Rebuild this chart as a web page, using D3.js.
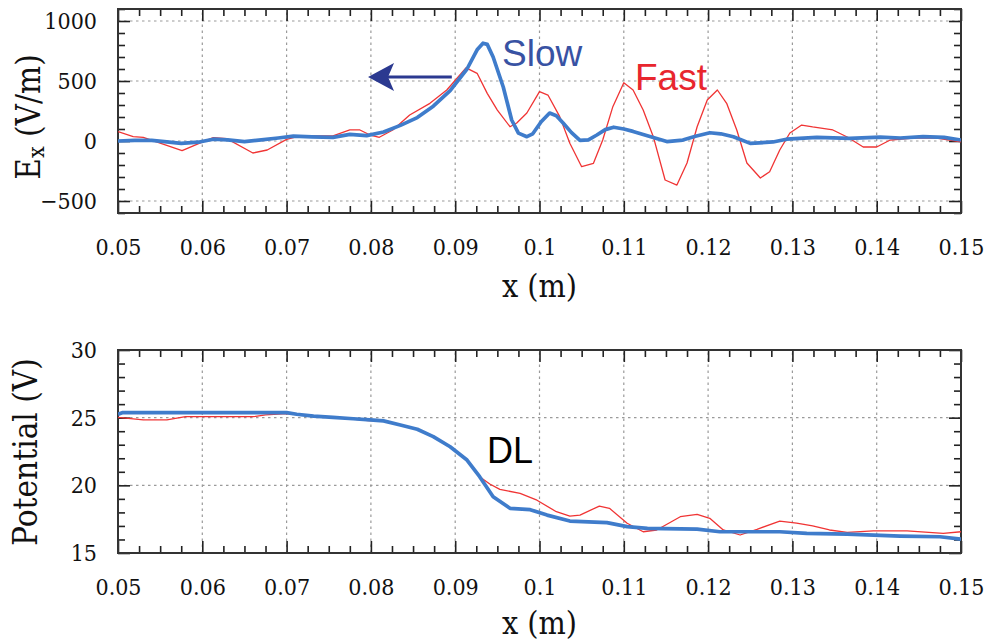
<!DOCTYPE html>
<html><head><meta charset="utf-8">
<script src="https://cdn.jsdelivr.net/npm/d3@7"></script>
<style>
html,body{margin:0;padding:0;background:#fff;}
svg{display:block;}
</style></head>
<body>
<svg id="chart" width="984" height="642"></svg>
<script>
// ---------- data ----------
const efieldX = [0.050,0.052,0.054,0.0555,0.0575,0.0595,0.0613,0.063,0.065,0.067,0.069,0.0708,0.073,0.0755,0.0775,0.0795,0.0815,0.0835,0.0855,0.0874,0.0894,0.0914,0.0926,0.0933,0.0938,0.0945,0.0957,0.0967,0.0975,0.0985,0.0992,0.1002,0.1012,0.102,0.1028,0.1038,0.1048,0.1058,0.1068,0.1078,0.1088,0.11,0.1111,0.113,0.1151,0.117,0.1185,0.1202,0.1215,0.123,0.125,0.1277,0.1293,0.1329,0.1368,0.1404,0.1428,0.1455,0.148,0.15];
const efieldSlow = [0,5,5,-5,-20,-10,15,10,-5,10,25,40,35,30,55,45,75,130,195,290,420,600,760,815,805,700,450,175,66,36,60,160,233,210,150,70,5,10,50,95,115,100,80,40,-5,8,40,69,60,36,-20,-8,15,31,22,33,25,37,30,8];

const efieldFastX = [0.050,0.0518,0.053,0.055,0.0576,0.0597,0.0613,0.0629,0.066,0.0677,0.070,0.0716,0.0755,0.0775,0.0787,0.0799,0.081,0.0826,0.0846,0.087,0.089,0.0913,0.0926,0.0938,0.095,0.0965,0.0973,0.0985,0.1,0.101,0.1024,0.1036,0.105,0.1064,0.1075,0.1087,0.11,0.1111,0.1123,0.1135,0.1149,0.1163,0.1175,0.1187,0.1199,0.1211,0.1222,0.1234,0.1246,0.1262,0.1273,0.1285,0.1297,0.1311,0.1324,0.1348,0.1365,0.1384,0.14,0.1416,0.1443,0.1471,0.15];
const efieldFast = [78,36,30,-17,-80,-17,28,20,-100,-75,14,42,42,92,92,50,31,92,217,314,425,610,564,397,258,119,150,233,411,383,203,-19,-214,-186,8,286,485,425,258,36,-325,-367,-183,119,342,425,314,92,-183,-308,-256,-75,67,133,117,92,33,-50,-50,8,25,25,-8];

const potSlowX = [0.050,0.0505,0.070,0.0712,0.0732,0.0755,0.0779,0.0799,0.0815,0.0835,0.0855,0.0874,0.0894,0.0914,0.0929,0.0945,0.0965,0.0989,0.1009,0.1036,0.108,0.1104,0.1128,0.1187,0.1214,0.1285,0.1317,0.1365,0.1428,0.1475,0.15];
const potSlow = [25.25,25.37,25.37,25.25,25.12,25.02,24.92,24.83,24.76,24.46,24.14,23.6,22.85,21.87,20.64,19.16,18.3,18.2,17.8,17.36,17.24,16.95,16.82,16.77,16.57,16.57,16.45,16.4,16.25,16.2,16.03];

const potFastX = [0.050,0.053,0.0558,0.058,0.066,0.0675,0.070,0.0755,0.0785,0.0797,0.0815,0.0835,0.0855,0.0874,0.0894,0.0914,0.0929,0.0941,0.0953,0.0977,0.0997,0.102,0.1036,0.1048,0.1071,0.1083,0.1104,0.1123,0.1139,0.1167,0.1187,0.1202,0.1218,0.1238,0.1258,0.1285,0.1305,0.1324,0.1344,0.1365,0.1396,0.1436,0.1479,0.15];
const potFast = [25.02,24.83,24.83,25.07,25.07,25.2,25.3,25.0,24.85,24.78,24.76,24.46,24.14,23.6,22.85,21.87,20.64,20.1,19.7,19.4,18.9,18.05,17.73,17.8,18.47,18.3,17.2,16.57,16.7,17.68,17.86,17.56,16.7,16.33,16.75,17.36,17.2,17.0,16.7,16.53,16.63,16.63,16.45,16.57];

const xTicks = [0.05,0.06,0.07,0.08,0.09,0.1,0.11,0.12,0.13,0.14,0.15];
const xTickLabels = ["0.05","0.06","0.07","0.08","0.09","0.1","0.11","0.12","0.13","0.14","0.15"];
const eTicks = [-500,0,500,1000];
const vTicks = [15,20,25,30];

// ---------- layout ----------
const svg = d3.select("#chart");
const L = 118, R = 961;
const x = d3.scaleLinear().domain([0.05,0.15]).range([L,R]);
const yTop = d3.scaleLinear().domain([-600,1100]).range([213,9]);
const yBot = d3.scaleLinear().domain([15,30]).range([553,350]);

const blue = "#3f7ccb", red = "#f03434";
const serif = '"DejaVu Serif Condensed","DejaVu Serif",serif';
const sans = '"Liberation Sans",Arial,sans-serif';

function panel(y, yMajor, yMinorStep, gridY) {
  const [y0,y1] = y.range(); // bottom, top
  const g = svg.append("g");
  const gx = xTicks.filter(t => t > 0.051 && t < 0.149);
  g.selectAll(".gv").data(gx).join("line")
    .attr("x1", d=>x(d)).attr("x2", d=>x(d)).attr("y1", y0).attr("y2", y1)
    .attr("stroke","#9a9a9a").attr("stroke-width",1.2).attr("stroke-dasharray","2.5,3.5");
  g.selectAll(".gh").data(gridY).join("line")
    .attr("x1", L).attr("x2", R).attr("y1", d=>y(d)).attr("y2", d=>y(d))
    .attr("stroke","#9a9a9a").attr("stroke-width",1.2).attr("stroke-dasharray","2.5,3.5");
  const [d0,d1] = y.domain();
  const minorY = d3.range(Math.ceil(d0/yMinorStep)*yMinorStep, d1+1e-9, yMinorStep).filter(v=>!yMajor.includes(v));
  const minorX = d3.range(0.05,0.1500001,0.0025).filter(v=>!xTicks.some(t=>Math.abs(t-v)<1e-6));
  const axB = g.append("g").attr("transform",`translate(0,${y0})`)
    .call(d3.axisBottom(x).tickValues(xTicks).tickFormat((d,i)=>xTickLabels[i]).tickSizeInner(-12).tickSizeOuter(0).tickPadding(30));
  g.append("g").attr("transform",`translate(0,${y0})`)
    .call(d3.axisBottom(x).tickValues(minorX).tickFormat("").tickSizeInner(-7).tickSizeOuter(0));
  g.append("g").attr("transform",`translate(0,${y1})`)
    .call(d3.axisTop(x).tickValues(xTicks).tickFormat("").tickSizeInner(-12).tickSizeOuter(0));
  g.append("g").attr("transform",`translate(0,${y1})`)
    .call(d3.axisTop(x).tickValues(minorX).tickFormat("").tickSizeInner(-7).tickSizeOuter(0));
  g.append("g").attr("transform",`translate(${L},0)`)
    .call(d3.axisLeft(y).tickValues(yMajor).tickFormat(d3.format("d")).tickSizeInner(-12).tickSizeOuter(0).tickPadding(21));
  g.append("g").attr("transform",`translate(${L},0)`)
    .call(d3.axisLeft(y).tickValues(minorY).tickFormat("").tickSizeInner(-7).tickSizeOuter(0));
  g.append("g").attr("transform",`translate(${R},0)`)
    .call(d3.axisRight(y).tickValues(yMajor).tickFormat("").tickSizeInner(-12).tickSizeOuter(0));
  g.append("g").attr("transform",`translate(${R},0)`)
    .call(d3.axisRight(y).tickValues(minorY).tickFormat("").tickSizeInner(-7).tickSizeOuter(0));
  g.selectAll(".domain").remove();
  g.selectAll(".tick line").attr("stroke","#222").attr("stroke-width",1.6);
  g.selectAll(".tick text").attr("font-size",23).attr("fill","#111").attr("font-family",serif);
  axB.selectAll(".tick text").attr("dy","0.32em").attr("y",35);
  g.append("rect").attr("x",L).attr("y",y1).attr("width",R-L).attr("height",y0-y1)
    .attr("fill","none").attr("stroke","#333").attr("stroke-width",2);
  return g;
}

const gTop = panel(yTop, eTicks, 100, [-500,0,500,1000]);
const gBot = panel(yBot, vTicks, 1, [20,25]);

const defs = svg.append("defs");
defs.append("clipPath").attr("id","cTop").append("rect").attr("x",L).attr("y",9).attr("width",R-L).attr("height",204);
defs.append("clipPath").attr("id","cBot").append("rect").attr("x",L).attr("y",350).attr("width",R-L).attr("height",203);

function drawLine(g, xs, ys, y, color, w, clip) {
  const data = xs.map((v,i)=>[v, ys[i]]);
  g.append("path").datum(data).attr("clip-path",`url(#${clip})`)
    .attr("d", d3.line().x(d=>x(d[0])).y(d=>y(d[1])))
    .attr("fill","none").attr("stroke",color).attr("stroke-width",w).attr("stroke-linejoin","round");
}
drawLine(gTop, efieldFastX, efieldFast, yTop, red, 1.3, "cTop");
drawLine(gTop, efieldX, efieldSlow, yTop, blue, 3.7, "cTop");
drawLine(gBot, potFastX, potFast, yBot, red, 1.3, "cBot");
drawLine(gBot, potSlowX, potSlow, yBot, blue, 3.7, "cBot");

// arrow
const arrowY = yTop(533);
const ax0 = x(0.0896), ax1 = x(0.07966);
svg.append("line").attr("x1",ax0).attr("x2",ax1+18).attr("y1",arrowY).attr("y2",arrowY)
  .attr("stroke","#2b3990").attr("stroke-width",3);
svg.append("path")
  .attr("d",`M${ax1},${arrowY} L${ax1+26},${arrowY-14} L${ax1+20},${arrowY} L${ax1+26},${arrowY+14} Z`)
  .attr("fill","#2b3990");

// annotations
svg.append("text").attr("x",x(0.09555)).attr("y",yTop(625)).text("Slow")
  .attr("font-family",sans).attr("font-size",37).attr("fill","#3852a3");
svg.append("text").attr("x",x(0.11133)).attr("y",yTop(425)).text("Fast")
  .attr("font-family",sans).attr("font-size",37).attr("fill","#e8262e");
svg.append("text").attr("x",x(0.09377)).attr("y",yBot(21.65)).text("DL")
  .attr("font-family",sans).attr("font-size",36).attr("fill","#000");

// axis titles
svg.append("text").attr("x",(L+R)/2).attr("y",297).attr("text-anchor","middle")
  .attr("font-family",serif).attr("font-size",32).attr("fill","#111").text("x (m)");
svg.append("text").attr("x",(L+R)/2).attr("y",634).attr("text-anchor","middle")
  .attr("font-family",serif).attr("font-size",32).attr("fill","#111").text("x (m)");
const ey = svg.append("text").attr("transform","translate(40,117) rotate(-90)").attr("text-anchor","middle")
  .attr("font-family",serif).attr("font-size",33).attr("fill","#111");
ey.append("tspan").text("E");
ey.append("tspan").attr("font-size",23).attr("dy",4).text("x");
ey.append("tspan").attr("dy",-4).text(" (V/m)");
svg.append("text").attr("transform","translate(37,452) rotate(-90)").attr("text-anchor","middle")
  .attr("font-family",serif).attr("font-size",33).attr("fill","#111").text("Potential (V)");
</script>
</body></html>
